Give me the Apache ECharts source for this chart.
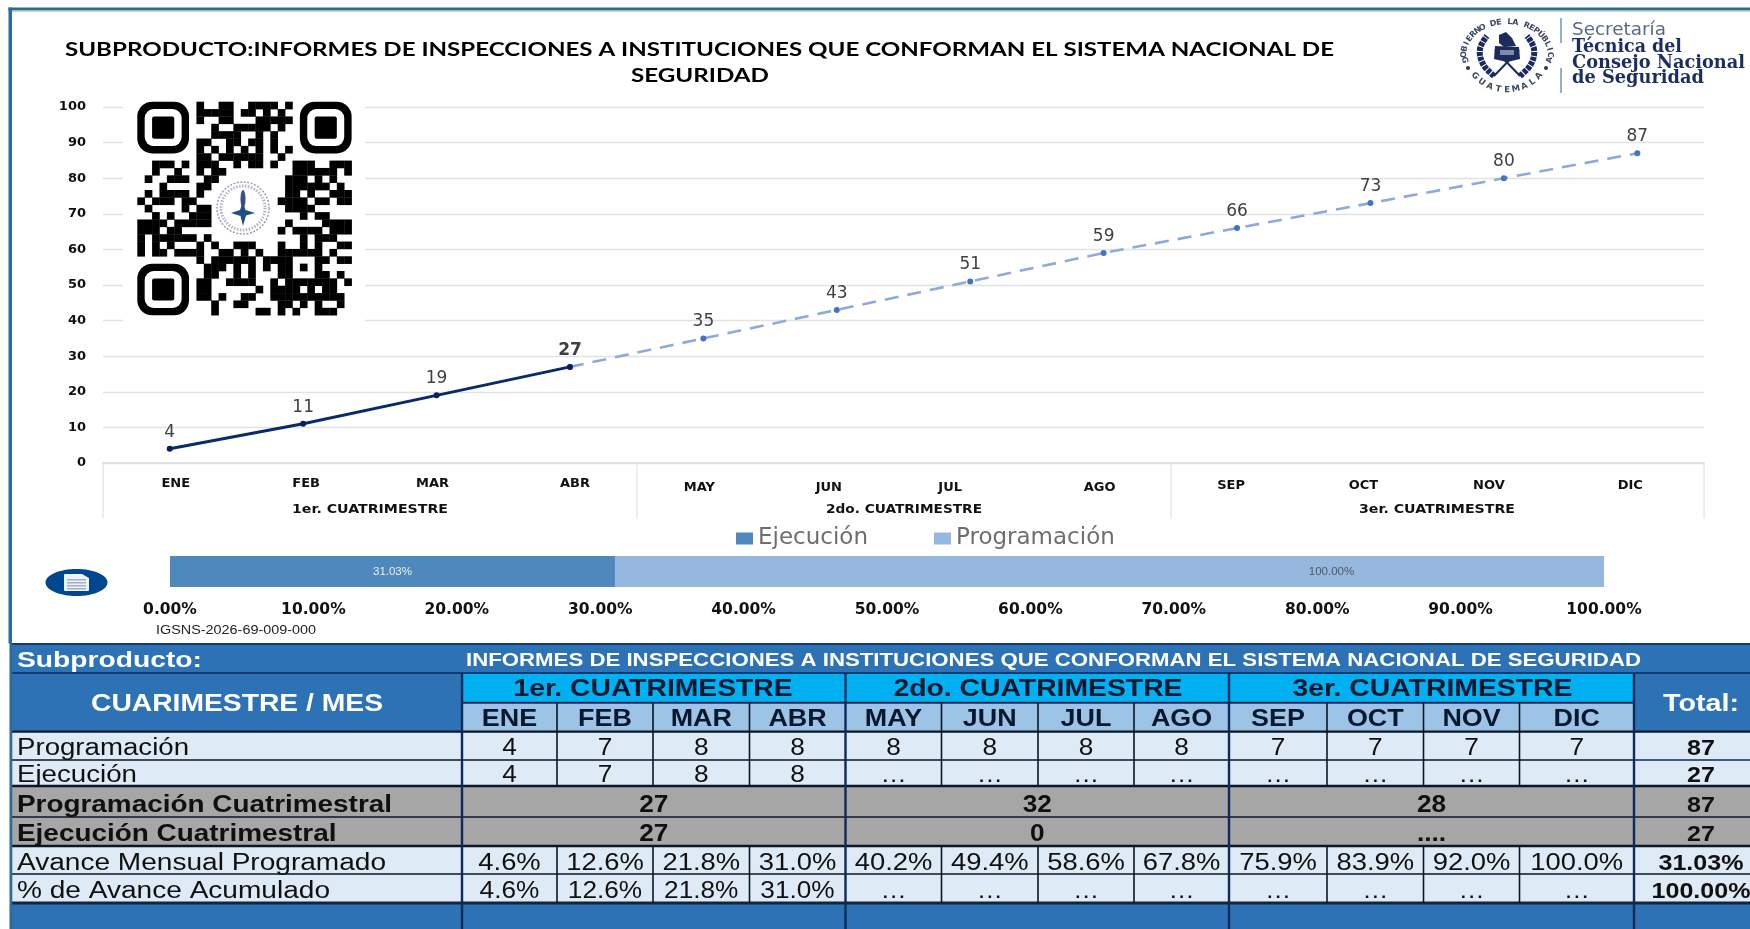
<!DOCTYPE html>
<html><head><meta charset="utf-8">
<script src="https://cdn.jsdelivr.net/npm/echarts@6/dist/echarts.min.js"></script>
<style>html,body{margin:0;padding:0;background:#fff}#c{width:1750px;height:929px}</style>
</head><body><div id="c"></div>
<script>
// ---- data ----
const months=['ENE','FEB','MAR','ABR','MAY','JUN','JUL','AGO','SEP','OCT','NOV','DIC'];
const quarters=['1er. CUATRIMESTRE','2do. CUATRIMESTRE','3er. CUATRIMESTRE'];
const ejecucionAcum=[4,11,19,27];
const programacionAcum=[null,null,null,27,35,43,51,59,66,73,80,87];
const avanceEjecutado=[31.03];
const avanceProgramado=[100];
const yTicks=[0,100,10];
const progMes=['4','7','8','8','8','8','8','8','7','7','7','7'];
const ejecMes=['4','7','8','8','…','…','…','…','…','…','…','…'];
const progCuat=['27','32','28'];
const ejecCuat=['27','0','....'];
const avanceMes=['4.6%','12.6%','21.8%','31.0%','40.2%','49.4%','58.6%','67.8%','75.9%','83.9%','92.0%','100.0%'];
const avanceAcum=['4.6%','12.6%','21.8%','31.0%','…','…','…','…','…','…','…','…'];
const totales=['87','27','87','27','31.03%','100.00%'];
const subproducto='INFORMES DE INSPECCIONES A INSTITUCIONES QUE CONFORMAN EL SISTEMA NACIONAL DE SEGURIDAD';
const qrDark=[
[8,11,12,15,16,17,18,20],[8,9,10,11,12,14,15,17,19],[8,11,12,16,17,18,19,20],[10,13,14,15,16,17,19],
[10,11,12,13,16,18],[8,9,12,13,15,16,18],[8,10,12,14,16,18,20],[8,9,11,12,13,14,15,16,19],
[2,3,4,6,8,9,10,13,15,16,18,21,22,23,26,27,28],[2,5,8,10,11,21,22,23,24,25,26,28],
[1,4,5,6,9,10,20,21,22,24,26],[3,8,9,20,21,22,23,24,25,27],[1,3,4,5,6,8,20,21,23,26,27,28],
[0,2,3,4,6,7,19,20,21,22,24,25,27,28],[1,6,8,9,20,21,22,23],[2,4,7,8,9,22,24,25],
[0,1,2,3,5,6,7,8,9,20,25,26,27,28],[0,1,2,4,5,19,21,22,23,24,26,27,28],[0,2,3,4,5,6,7,9,22,24,25,26],
[0,2,4,8,10,13,14,15,19,22,24,27,28],[0,2,3,5,6,7,8,11,12,14,16,19,20,21,22,23,24,26],
[8,10,11,12,13,14,15,17,18,19,20,24,25,27,28],[9,10,11,13,15,17,19,20,22,24],[9,10,13,15,19,20,24,25,27],
[8,9,12,13,14,15,18,20,21,22,23,24,25,26,28],[8,9,16,18,19,20,21,23,25,26],
[8,9,11,14,15,18,19,20,21,22,23,24,25,26,27],[10,13,14,19,20,22,24,27],[10,16,17,19,21,24,25,26]];

// ---- layout helpers ----
const els=[];
const meas=document.createElement('canvas').getContext('2d');
const SANS='"Liberation Sans"', DJ='"DejaVu Sans"';
function T(text,x,y,o){
  const font=(o.weight||'normal')+' '+o.size+'px '+(o.family||SANS);
  meas.font=font; let sx=o.sx||1;
  if(o.w) sx=o.w/meas.measureText(text).width;
  els.push({type:'text',x,y,scaleX:sx,rotation:o.rot||0,z:o.z||30,silent:true,
    style:{text,font,fill:o.color||'#000',align:o.align||'center',verticalAlign:'middle'}});
}
function R(x,y,w,h,fill,z,r){els.push({type:'rect',z:z||10,silent:true,shape:{x,y,width:w,height:h,r:r||0},style:{fill}});}
function L(x1,y1,x2,y2,stroke,lw,z){els.push({type:'line',z:z||20,silent:true,shape:{x1,y1,x2,y2},style:{stroke,lineWidth:lw}});}
function P(points,fill,z){els.push({type:'polygon',z:z||30,silent:true,shape:{points},style:{fill}});}
function PL(points,stroke,lw,z,dash){els.push({type:'polyline',z:z||30,silent:true,shape:{points,smooth:0.4},style:{stroke,lineWidth:lw,fill:'none',lineDash:dash||null}});}

// frame
R(0,0,1750,7.5,'#fff',1);
R(8.5,7.5,1741.5,3,'#2a6b96',25);
R(11,10.5,1739,1.2,'#a9c3d6',25);
R(8.5,7.5,3.5,636,'#2d6b99',25);

// title
T('SUBPRODUCTO:INFORMES DE INSPECCIONES A INSTITUCIONES QUE CONFORMAN EL SISTEMA NACIONAL DE',699.5,50,{size:19,weight:'bold',family:'Lato',w:1269});
T('SEGURIDAD',700,76,{size:19,weight:'bold',family:'Lato',w:138});

// multi-level axis: quarter names + separators
[103,637,1171,1704].forEach(x=>L(x,463,x,518.5,'#dcdcdc',1));
quarters.forEach((q,i)=>T(q,[370,904,1437][i],510,{size:13,weight:'bold',family:DJ,w:156,color:'#111'}));

// QR
R(123,98,242,232,'#fff',15);
const QX=137.3,QY=101.7,QM=7.39;
qrDark.forEach((cols,r)=>cols.forEach(c=>R(QX+c*QM,QY+r*QM*0.996,QM+0.3,QM+0.3,'#000',16)));
[[0,0],[22,0],[0,22]].forEach(([c,r])=>{
  const x=QX+c*QM,y=QY+r*QM*0.996;
  R(x,y,7*QM,7*QM,'#000',16,15);
  R(x+QM,y+QM,5*QM,5*QM,'#fff',17,9);
  R(x+2*QM,y+2*QM,3*QM,3*QM,'#000',18,2);
});
// QR seal
els.push({type:'circle',z:17,silent:true,shape:{cx:243,cy:208,r:26},style:{fill:'#fff',stroke:'#9aa0ad',lineWidth:1.5,lineDash:[2,1.5]}});
els.push({type:'circle',z:17,silent:true,shape:{cx:243,cy:208,r:22},style:{fill:'#fff',stroke:'#b4b8c2',lineWidth:3,lineDash:[1.5,1.5]}});
els.push({type:'ellipse',z:18,silent:true,shape:{cx:243,cy:199,rx:2.5,ry:9},style:{fill:'#3a4f8c'}});
P([[243,202],[245.5,210],[255,213],[246,215.5],[243,226],[240.5,216],[231,213],[240,210]],'#1f4f86',18);

// logo: seal, letters evenly spaced by arc length along an ellipse
const SX=1507,SY=55,DEG=Math.PI/180;
function arcLetters(str,a0,a1,rx,ry,size){
  const n=400,tab=[0];
  const pt=a=>[SX+rx*Math.sin(a),SY-ry*Math.cos(a)];
  for(let i=1;i<=n;i++){const p=pt(a0+(a1-a0)*(i-1)/n),q=pt(a0+(a1-a0)*i/n);tab.push(tab[i-1]+Math.hypot(q[0]-p[0],q[1]-p[1]));}
  [...str].forEach((ch,k)=>{
    const target=tab[n]*k/(str.length-1);let i=0;while(i<n&&tab[i]<target)i++;
    const a=a0+(a1-a0)*i/n,[x,y]=pt(a);
    let th=Math.atan2(ry*Math.sin(a),rx*Math.cos(a));
    if(Math.cos(a)<0)th+=Math.PI; // bottom arc stays upright
    T(ch,x,y,{size,weight:'bold',family:DJ,color:'#3a4664',rot:-th});
  });
}
arcLetters('GOBIERNO DE LA REPÚBLICA',-99*DEG,99*DEG,43,33,8);
arcLetters('GUATEMALA',233*DEG,127*DEG,40,35,8.5);
[[1468,68],[1546,68]].forEach(([cx,cy])=>els.push({type:'circle',z:30,silent:true,shape:{cx,cy,r:2},style:{fill:'#2a3658'}}));
const NV='#1c2b5c',CY0=52;
PL([[SX-13,CY0+24],[SX-24,CY0+12],[SX-27,CY0-3],[SX-20,CY0-16]],NV,6,30,[4,1]);
PL([[SX+13,CY0+24],[SX+24,CY0+12],[SX+27,CY0-3],[SX+20,CY0-16]],NV,6,30,[4,1]);
L(SX-13,CY0+24,SX+12,CY0-2,NV,2,30);L(SX+13,CY0+24,SX-12,CY0-2,NV,2,30);
P([[SX-12,CY0-6],[SX+12,CY0-5],[SX+13,CY0+7],[SX,CY0+10],[SX-13,CY0+7]],NV,31);
P([[SX-8,CY0-17],[SX-1,CY0-20],[SX+5,CY0-14],[SX+9,CY0-6],[SX-3,CY0-5],[SX-8,CY0-9]],NV,31);
R(SX-7,CY0-2,14,5,'#7f8aa8',32);
// logo: wordmark
R(1560,18,2,25,'#8db4c4',25);R(1560,68,2,25,'#8db4c4',25);
T('Secretaría',1572,31,{size:17,family:DJ,w:94,align:'left',color:'#5a6a84'});
T('Técnica del',1572,47,{size:18,weight:'bold',family:'"DejaVu Serif"',w:110,align:'left',color:'#1b2f5e'});
T('Consejo Nacional',1572,63,{size:18,weight:'bold',family:'"DejaVu Serif"',w:173,align:'left',color:'#1b2f5e'});
T('de Seguridad',1572,78,{size:18,weight:'bold',family:'"DejaVu Serif"',w:132,align:'left',color:'#1b2f5e'});

// document icon
els.push({type:'ellipse',z:20,silent:true,shape:{cx:76.5,cy:582.5,rx:31,ry:13.5},style:{fill:'#00478f'}});
R(64,574,25,17,'#eef3f8',21,1);
P([[82,574],[89,574],[89,578]],'#00478f',22);
[579,582,585,588].forEach(y=>R(67,y,19,1.5,'#9fb2c6',22));

// code text
T('IGSNS-2026-69-009-000',156,630,{size:13,align:'left',w:160,color:'#222'});

// ---- table ----
const BLUE='#2e72b6',CY='#00b0f0',MH='#9dc3e6',LT='#deeaf6',GR='#a6a6a6',NAVY='#0d2a5c',DK='#0b1626';
const X0=12,X1=462,XE=1750,XT=1634;
const mx=[462,557,653,749.5,845.5,941.5,1038,1134,1229,1327,1423.5,1519.5,1634];
const qx=[462,845.5,1229,1634];
const Y={top:644,sub:673,q:702.7,m:731.7,p:760,e:786,pc:817,ec:846,am:874,aa:903,end:929};
R(X0,Y.top,XE-X0,Y.sub-Y.top,BLUE);
R(X0,Y.sub,XE-X0,Y.m-Y.sub,BLUE);
R(X1,Y.sub,XT-X1,Y.q-Y.sub,CY);
R(X1,Y.q,XT-X1,Y.m-Y.q,MH);
R(X0,Y.m,XE-X0,Y.e-Y.m,LT);
R(X0,Y.e,XE-X0,Y.ec-Y.e,GR);
R(X0,Y.ec,XE-X0,Y.aa-Y.ec,LT);
R(X0,Y.aa,XE-X0,Y.end-Y.aa,BLUE);
// lines
L(X0,Y.top,XE,Y.top,'#123a73',2);
L(X0,Y.sub,XE,Y.sub,'#123a73',2);
L(X1,Y.q,XT,Y.q,NAVY,2);
L(X0,Y.m,XE,Y.m,DK,2.2);
L(X0,Y.p,XT,Y.p,DK,1.5);L(XT,Y.p,XE,Y.p,NAVY,1.5);
L(X0,Y.e,XE,Y.e,DK,2.4);
L(X0,Y.pc,XE,Y.pc,DK,1.5);
L(X0,Y.ec,XE,Y.ec,DK,2.4);
L(X0,Y.am,XE,Y.am,DK,1.5);
L(X0,Y.aa,XE,Y.aa,'#12243f',3);
mx.forEach((x,i)=>{ if(qx.indexOf(x)<0){L(x,Y.q,x,Y.e,DK,1.6);L(x,Y.ec,x,Y.aa,DK,1.6);} });
[X1].concat(qx.slice(1)).forEach(x=>L(x,Y.sub,x,Y.end,NAVY,2.4,22));
R(9.5,Y.top-1,2.8,XE,'#2d6b99',24);
// table text
const cm=i=>(mx[i]+mx[i+1])/2, cq=i=>(qx[i]+qx[i+1])/2;
const TXT='#101010';
const ROWY=[749,776,806,835,864,892];
T('Subproducto:',17,661,{size:22,weight:'bold',align:'left',w:185,color:'#fff'});
T(subproducto,1053.5,661,{size:18,weight:'bold',w:1175,color:'#fff'});
T('CUARIMESTRE / MES',237,704.5,{size:24,weight:'bold',w:292,color:'#fff'});
T('Total:',1701,704.5,{size:24,weight:'bold',w:76,color:'#fff'});
quarters.forEach((q,i)=>T(q,[653,1038,1432.5][i],689.5,{size:24,weight:'bold',w:[279,289,280][i],color:'#06182f'}));
months.forEach((m,i)=>T(m,cm(i),719,{size:24,weight:'bold',sx:1.12,color:'#06182f'}));
[['Programación',172,false],['Ejecución',120,false],['Programación Cuatrimestral',375,true],
 ['Ejecución Cuatrimestral',319.5,true],['Avance Mensual Programado',369,false],['% de Avance Acumulado',313,false]]
 .forEach(([t,w,b],i)=>T(t,17,ROWY[i],{size:23,weight:b?'bold':'normal',align:'left',w,color:TXT}));
progMes.forEach((v,i)=>T(v,cm(i),ROWY[0],{size:23,sx:1.14,color:TXT}));
ejecMes.forEach((v,i)=>T(v,cm(i),ROWY[1],{size:23,sx:1.14,color:TXT}));
progCuat.forEach((v,i)=>T(v,cq(i),ROWY[2],{size:23,weight:'bold',sx:1.14,color:TXT}));
ejecCuat.forEach((v,i)=>T(v,cq(i),ROWY[3],{size:23,weight:'bold',sx:1.14,color:TXT}));
avanceMes.forEach((v,i)=>T(v,cm(i),ROWY[4],{size:23,sx:1.19,color:TXT}));
avanceAcum.forEach((v,i)=>T(v,cm(i),ROWY[5],{size:23,sx:1.14,color:TXT}));
totales.forEach((v,i)=>T(v,1701,ROWY[i],{size:22,weight:'bold',sx:1.14,color:TXT}));

// month label nudges (multi-level axis of the source is not centred on bands)
const nudgeX=[6,3,-4,5,-4,-8,-20,-4,-6,-7,-15,-7];
const nudgeY=[0,0,0,0,4,4,4,4,2,2,2,2];
const monthRich={};
months.forEach((m,i)=>{monthRich['m'+i]={fontFamily:DJ,fontWeight:'bold',fontSize:13,color:'#111',
  padding:[nudgeY[i],nudgeX[i]<0?-2*nudgeX[i]:0,0,nudgeX[i]>0?2*nudgeX[i]:0]};});

const dataLabel={show:true,position:'top',distance:5,fontFamily:DJ,fontSize:17,color:'#404040'};
const option={
  animation:false,
  backgroundColor:'#fff',
  legend:{left:731,top:522,itemWidth:17,itemHeight:12,itemGap:66,icon:'rect',
    data:['Ejecución','Programación'],textStyle:{fontFamily:DJ,fontSize:23,color:'#6e6e6e'}},
  grid:[{left:103,top:107,width:1601,height:356},{left:170,top:556,width:1434,height:31}],
  xAxis:[
    {gridIndex:0,type:'category',data:months,boundaryGap:true,axisTick:{show:false},
     axisLine:{lineStyle:{color:'#dcdcdc',width:1.5}},
     axisLabel:{interval:0,margin:14,formatter:(v,i)=>'{m'+i+'|'+v+'}',rich:monthRich}},
    {gridIndex:1,type:'value',min:0,max:100,interval:10,axisLine:{show:false},axisTick:{show:false},splitLine:{show:false},
     axisLabel:{margin:15,fontFamily:DJ,fontWeight:'bold',fontSize:15.5,color:'#111',formatter:v=>v.toFixed(2)+'%'}}
  ],
  yAxis:[
    {gridIndex:0,type:'value',min:yTicks[0],max:yTicks[1],interval:yTicks[2],axisLine:{show:false},axisTick:{show:false},
     splitLine:{lineStyle:{color:'#e2e2e2',width:1.4}},
     axisLabel:{margin:17,padding:[2,0,0,0],fontFamily:DJ,fontWeight:'bold',fontSize:13,color:'#111'}},
    {gridIndex:1,type:'category',data:['Avance'],show:false}
  ],
  series:[
    {name:'Ejecución',type:'bar',xAxisIndex:1,yAxisIndex:1,stack:'avance',barWidth:'100%',data:avanceEjecutado,
     itemStyle:{color:'#4f88bc'},
     label:{show:true,position:'inside',fontFamily:SANS,fontSize:11.5,color:'#e8eff6',formatter:p=>p.value.toFixed(2)+'%'}},
    {name:'Programación',type:'bar',xAxisIndex:1,yAxisIndex:1,stack:'avance',barWidth:'100%',data:avanceProgramado,
     itemStyle:{color:'#96b7de'},
     label:{show:true,position:'inside',offset:[222,0],fontFamily:SANS,fontSize:11.5,color:'#50585f',formatter:p=>p.value.toFixed(2)+'%'}},
    {name:'Programación acumulada',type:'line',xAxisIndex:0,yAxisIndex:0,data:programacionAcum,connectNulls:false,
     symbol:'circle',symbolSize:6,itemStyle:{color:'#4472c4'},lineStyle:{color:'#8eaadb',width:2.6,type:[14,9]},
     label:Object.assign({},dataLabel,{formatter:p=>p.dataIndex===3?'':String(p.value)})},
    {name:'Ejecución acumulada',type:'line',xAxisIndex:0,yAxisIndex:0,data:ejecucionAcum.map((v,i)=>i===3?{value:v,label:{fontWeight:'bold'}}:v),
     symbol:'circle',symbolSize:6,itemStyle:{color:'#06205f'},lineStyle:{color:'#0b2a6b',width:3},
     label:dataLabel}
  ],
  graphic:{elements:els}
};
echarts.init(document.getElementById('c')).setOption(option);
</script></body></html>
